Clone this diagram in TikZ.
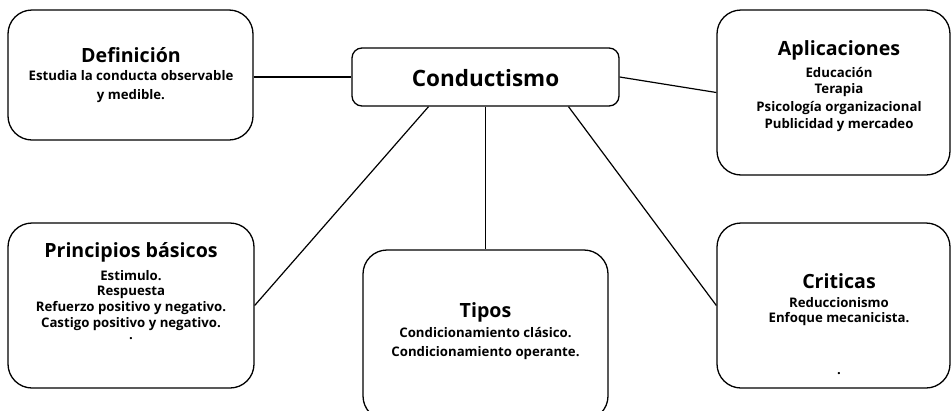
\documentclass[tikz,border=0pt]{standalone}
\usepackage{fontspec}
\setmainfont{Open Sans}
\begin{document}
\begin{tikzpicture}[x=1pt,y=-1pt,
  box/.style={draw=black,line width=1.3pt,rounded corners=24pt,inner sep=0pt},
  ttl/.style={font=\bfseries\fontsize{19.6}{22}\selectfont,inner sep=0pt},
  bdy/.style={font=\bfseries\fontsize{13.2}{15}\selectfont,inner sep=0pt},
  link/.style={draw=black,line width=1.2pt}]
\useasboundingbox (0,0) rectangle (952,410);
\begin{scope}
\clip (0,0) rectangle (952,410);
\node[box,minimum width=245pt,minimum height=130pt] (def) at (130.5,75) {};
\node[box,rounded corners=10pt,minimum width=267pt,minimum height=58pt] (cond) at (485.5,77) {};
\node[box,minimum width=233pt,minimum height=165pt] (apl) at (833.5,92.5) {};
\node[box,minimum width=246pt,minimum height=165pt] (prin) at (131,305.5) {};
\node[box,minimum width=245pt,minimum height=170pt] (tip) at (485.5,335) {};
\node[box,minimum width=233pt,minimum height=165pt] (crit) at (833.5,305.5) {};
\end{scope}
% connectors
\draw[link] (def.east |- cond.west) -- (cond.west);
\draw[link] (cond.east) -- (apl.west);
\draw[link] ([xshift=-57pt]cond.south) -- (prin.east);
\draw[link] (cond.south) -- (tip.north);
\draw[link] ([xshift=83pt]cond.south) -- (crit.west);
% texts
\node[font=\bfseries\fontsize{22.5}{25}\selectfont,inner sep=0pt] (tcond) at (485.5,78) {Conductismo};
\node[ttl] (tdef) at (131,55) {Definición};
\node[bdy] (d1) at (131,76) {Estudia la conducta observable};
\node[bdy] (d2) at (131,96) {y medible.};
\node[ttl] (tapl) at (839,50) {Aplicaciones};
\node[bdy] (a1) at (839,73) {Educación};
\node[bdy] (a2) at (839,90) {Terapia};
\node[bdy] (a3) at (839,108) {Psicología organizacional};
\node[bdy] (a4) at (839,125) {Publicidad y mercadeo};
\node[ttl] (tprin) at (131,252) {Principios básicos};
\node[bdy] (p1) at (131,276) {Estimulo.};
\node[bdy] (p2) at (131,292) {Respuesta};
\node[bdy] (p3) at (131,308) {Refuerzo positivo y negativo.};
\node[bdy] (p4) at (131,324) {Castigo positivo y negativo.};
\node[bdy] (p5) at (131,339) {.};
\node[ttl] (ttip) at (485.5,312) {Tipos};
\node[bdy] (t1) at (485.5,333) {Condicionamiento clásico.};
\node[bdy] (t2) at (485.5,353) {Condicionamiento operante.};
\node[ttl] (tcrit) at (839,281) {Criticas};
\node[bdy] (c1) at (839,303) {Reduccionismo};
\node[bdy] (c2) at (839,319) {Enfoque mecanicista.};
\node[bdy] (c3) at (839,374) {.};
\end{tikzpicture}
\end{document}
